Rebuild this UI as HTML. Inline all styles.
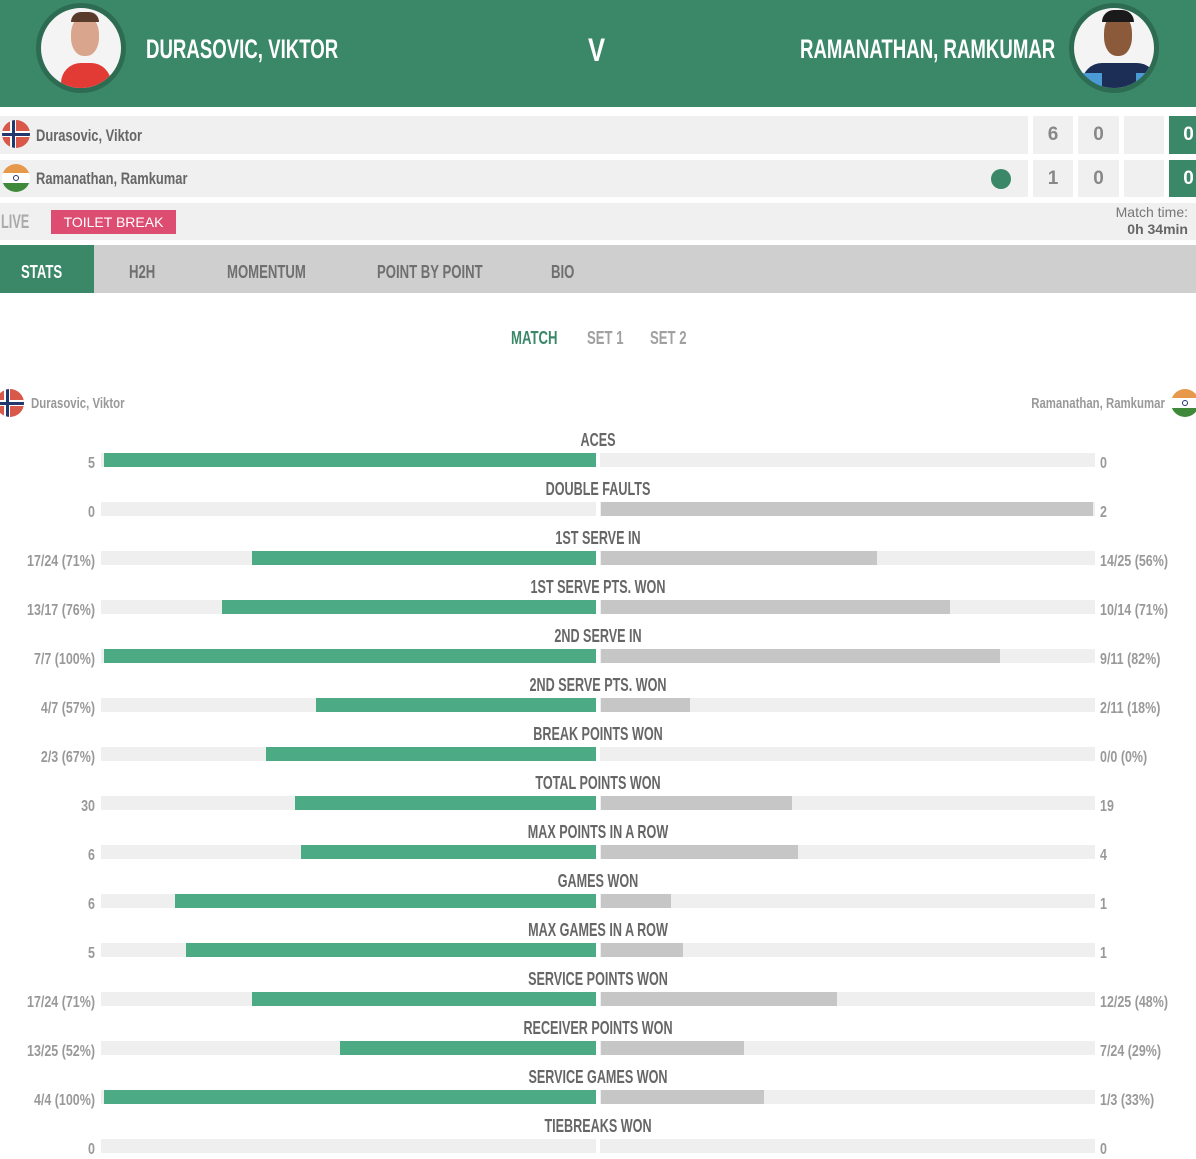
<!DOCTYPE html>
<html><head><meta charset="utf-8"><style>
*{margin:0;padding:0;box-sizing:border-box}
body{width:1196px;height:1158px;background:#fff;position:relative;overflow:hidden;font-family:"Liberation Sans",sans-serif;font-weight:bold}
.a{position:absolute;white-space:nowrap}
.hdr{left:0;top:0;width:1196px;height:107px;background:#3a8868}
.av{width:90px;height:90px;border-radius:50%;border:5px solid #2d6c52;overflow:hidden;background:#f4f4f4}
.hn{color:#fff;font-size:27px;top:34px;transform:scaleX(0.69);transform-origin:left}
.row{background:#f0f0f0}
.pn{font-size:17px;color:#666;transform:scaleX(0.76);transform-origin:left}
.flag{width:28px;height:28px;border-radius:50%;overflow:hidden}
.sc{background:#f0f0f0;color:#888;font-size:19px;text-align:center;line-height:38px}
.tab{font-size:18px;color:#6f6f6f;top:262px;transform:scaleX(0.73);transform-origin:left}
.t{font-size:18px;color:#666;width:400px;left:398px;text-align:center;transform:scaleX(0.7);transform-origin:center}
.tr{height:14px;background:#efefef}
.g{height:14px;background:#4cab85}
.gr{height:14px;background:#c6c6c6}
.vl{font-size:16px;color:#999;width:95px;left:0;text-align:right;transform:scaleX(0.78);transform-origin:right;margin-top:2px}
.vr{font-size:16px;color:#999;left:1100px;transform:scaleX(0.78);transform-origin:left;margin-top:2px}
</style></head><body>
<div class="a hdr"></div>
<div class="a av" style="left:36px;top:3px">
<div class="a" style="left:20px;top:55px;width:50px;height:40px;background:#e23a35;border-radius:20px 20px 0 0"></div>
<div class="a" style="left:30px;top:8px;width:28px;height:40px;background:#d9a58c;border-radius:45%"></div>
<div class="a" style="left:30px;top:4px;width:28px;height:10px;background:#5a3a2a;border-radius:10px 10px 0 0"></div>
</div>
<div class="a av" style="left:1069px;top:3px">
<div class="a" style="left:8px;top:55px;width:75px;height:40px;background:#1c2e55;border-radius:20px 20px 0 0"></div>
<div class="a" style="left:8px;top:65px;width:20px;height:30px;background:#4a9ad6"></div>
<div class="a" style="left:62px;top:65px;width:20px;height:30px;background:#4a9ad6"></div>
<div class="a" style="left:30px;top:6px;width:28px;height:42px;background:#8a5a3a;border-radius:45%"></div>
<div class="a" style="left:28px;top:2px;width:32px;height:12px;background:#1a1a1a;border-radius:12px 12px 0 0"></div>
</div>
<div class="a hn" style="left:146px">DURASOVIC, VIKTOR</div>
<div class="a hn" style="left:588px;font-size:32px;top:32px;transform:scaleX(0.8)">V</div>
<div class="a hn" style="left:800px">RAMANATHAN, RAMKUMAR</div>

<div class="a row" style="left:0;top:116px;width:1028px;height:38px"></div>
<div class="a row" style="left:0;top:160px;width:1028px;height:37px"></div>
<div class="a flag" style="left:2px;top:120px;background:#d8584a"><div class="a" style="left:0;top:11px;width:28px;height:6px;background:#fff"></div><div class="a" style="left:8px;top:0;width:6px;height:28px;background:#fff"></div><div class="a" style="left:0;top:12.5px;width:28px;height:3px;background:#23366e"></div><div class="a" style="left:9.5px;top:0;width:3px;height:28px;background:#23366e"></div></div>
<div class="a flag" style="left:2px;top:164px;background:#fff"><div class="a" style="left:0;top:0;width:28px;height:9px;background:#e6994a"></div><div class="a" style="left:0;top:19px;width:28px;height:9px;background:#3e8a3a"></div><div class="a" style="left:11px;top:11px;width:6px;height:6px;border-radius:50%;border:1.5px solid #22337a"></div></div>
<div class="a pn" style="left:36px;top:126px">Durasovic, Viktor</div>
<div class="a pn" style="left:36px;top:169px">Ramanathan, Ramkumar</div>
<div class="a" style="left:991px;top:169px;width:20px;height:20px;border-radius:50%;background:#3a8868"></div>
<div class="a sc" style="left:1033px;top:116px;width:40px;height:38px">6</div>
<div class="a sc" style="left:1078px;top:116px;width:41px;height:38px">0</div>
<div class="a sc" style="left:1124px;top:116px;width:40px;height:38px"></div>
<div class="a sc" style="left:1169px;top:116px;width:27px;height:38px;background:#3a8868;color:#fff;text-indent:12px">0</div>
<div class="a sc" style="left:1033px;top:160px;width:40px;height:37px">1</div>
<div class="a sc" style="left:1078px;top:160px;width:41px;height:37px">0</div>
<div class="a sc" style="left:1124px;top:160px;width:40px;height:37px"></div>
<div class="a sc" style="left:1169px;top:160px;width:27px;height:37px;background:#3a8868;color:#fff;text-indent:12px">0</div>

<div class="a row" style="left:0;top:203px;width:1196px;height:37px"></div>
<div class="a" style="left:1px;top:212px;font-size:19px;color:#aaa;transform:scaleX(0.67);transform-origin:left">LIVE</div>
<div class="a" style="left:51px;top:210px;width:125px;height:24px;background:#dd4d72;color:#fff;font-weight:normal;font-size:14px;text-align:center;line-height:24px">TOILET BREAK</div>
<div class="a" style="right:8px;top:204px;font-weight:normal;font-size:14px;color:#777;text-align:right;line-height:17px">Match time:<br><b style="color:#666">0h 34min</b></div>

<div class="a" style="left:0;top:245px;width:1196px;height:48px;background:#cfcfcf"></div>
<div class="a" style="left:0;top:245px;width:94px;height:48px;background:#3a8868"></div>
<div class="a tab" style="left:21px;color:#fff">STATS</div>
<div class="a tab" style="left:129px">H2H</div>
<div class="a tab" style="left:227px">MOMENTUM</div>
<div class="a tab" style="left:377px">POINT BY POINT</div>
<div class="a tab" style="left:551px">BIO</div>

<div class="a" style="left:511px;top:328px;font-size:18px;color:#3a8868;transform:scaleX(0.73);transform-origin:left">MATCH</div>
<div class="a" style="left:587px;top:328px;font-size:18px;color:#a0a0a0;transform:scaleX(0.73);transform-origin:left">SET 1</div>
<div class="a" style="left:650px;top:328px;font-size:18px;color:#a0a0a0;transform:scaleX(0.73);transform-origin:left">SET 2</div>

<div class="a flag" style="left:-4px;top:389px;background:#d8584a"><div class="a" style="left:0;top:11px;width:28px;height:6px;background:#fff"></div><div class="a" style="left:8px;top:0;width:6px;height:28px;background:#fff"></div><div class="a" style="left:0;top:12.5px;width:28px;height:3px;background:#23366e"></div><div class="a" style="left:9.5px;top:0;width:3px;height:28px;background:#23366e"></div></div>
<div class="a" style="left:31px;top:395px;font-size:15px;color:#999;transform:scaleX(0.76);transform-origin:left">Durasovic, Viktor</div>
<div class="a" style="right:31px;top:395px;font-size:15px;color:#999;transform:scaleX(0.76);transform-origin:right">Ramanathan, Ramkumar</div>
<div class="a flag" style="left:1171px;top:389px;background:#fff"><div class="a" style="left:0;top:0;width:28px;height:9px;background:#e6994a"></div><div class="a" style="left:0;top:19px;width:28px;height:9px;background:#3e8a3a"></div><div class="a" style="left:11px;top:11px;width:6px;height:6px;border-radius:50%;border:1.5px solid #22337a"></div></div>

<div class="a t" style="top:430px">ACES</div>
<div class="a tr" style="left:101px;top:453px;width:495px"></div><div class="a tr" style="left:600px;top:453px;width:495px"></div>
<div class="a g" style="left:104px;top:453px;width:492px"></div>
<div class="a vl" style="top:453px">5</div><div class="a vr" style="top:453px">0</div>

<div class="a t" style="top:479px">DOUBLE FAULTS</div>
<div class="a tr" style="left:101px;top:502px;width:495px"></div><div class="a tr" style="left:600px;top:502px;width:495px"></div>
<div class="a gr" style="left:601px;top:502px;width:492px"></div>
<div class="a vl" style="top:502px">0</div><div class="a vr" style="top:502px">2</div>

<div class="a t" style="top:528px">1ST SERVE IN</div>
<div class="a tr" style="left:101px;top:551px;width:495px"></div><div class="a tr" style="left:600px;top:551px;width:495px"></div>
<div class="a g" style="left:252px;top:551px;width:344px"></div><div class="a gr" style="left:601px;top:551px;width:276px"></div>
<div class="a vl" style="top:551px">17/24 (71%)</div><div class="a vr" style="top:551px">14/25 (56%)</div>

<div class="a t" style="top:577px">1ST SERVE PTS. WON</div>
<div class="a tr" style="left:101px;top:600px;width:495px"></div><div class="a tr" style="left:600px;top:600px;width:495px"></div>
<div class="a g" style="left:222px;top:600px;width:374px"></div><div class="a gr" style="left:601px;top:600px;width:349px"></div>
<div class="a vl" style="top:600px">13/17 (76%)</div><div class="a vr" style="top:600px">10/14 (71%)</div>

<div class="a t" style="top:626px">2ND SERVE IN</div>
<div class="a tr" style="left:101px;top:649px;width:495px"></div><div class="a tr" style="left:600px;top:649px;width:495px"></div>
<div class="a g" style="left:104px;top:649px;width:492px"></div><div class="a gr" style="left:601px;top:649px;width:399px"></div>
<div class="a vl" style="top:649px">7/7 (100%)</div><div class="a vr" style="top:649px">9/11 (82%)</div>

<div class="a t" style="top:675px">2ND SERVE PTS. WON</div>
<div class="a tr" style="left:101px;top:698px;width:495px"></div><div class="a tr" style="left:600px;top:698px;width:495px"></div>
<div class="a g" style="left:316px;top:698px;width:280px"></div><div class="a gr" style="left:601px;top:698px;width:89px"></div>
<div class="a vl" style="top:698px">4/7 (57%)</div><div class="a vr" style="top:698px">2/11 (18%)</div>

<div class="a t" style="top:724px">BREAK POINTS WON</div>
<div class="a tr" style="left:101px;top:747px;width:495px"></div><div class="a tr" style="left:600px;top:747px;width:495px"></div>
<div class="a g" style="left:266px;top:747px;width:330px"></div>
<div class="a vl" style="top:747px">2/3 (67%)</div><div class="a vr" style="top:747px">0/0 (0%)</div>

<div class="a t" style="top:773px">TOTAL POINTS WON</div>
<div class="a tr" style="left:101px;top:796px;width:495px"></div><div class="a tr" style="left:600px;top:796px;width:495px"></div>
<div class="a g" style="left:295px;top:796px;width:301px"></div><div class="a gr" style="left:601px;top:796px;width:191px"></div>
<div class="a vl" style="top:796px">30</div><div class="a vr" style="top:796px">19</div>

<div class="a t" style="top:822px">MAX POINTS IN A ROW</div>
<div class="a tr" style="left:101px;top:845px;width:495px"></div><div class="a tr" style="left:600px;top:845px;width:495px"></div>
<div class="a g" style="left:301px;top:845px;width:295px"></div><div class="a gr" style="left:601px;top:845px;width:197px"></div>
<div class="a vl" style="top:845px">6</div><div class="a vr" style="top:845px">4</div>

<div class="a t" style="top:871px">GAMES WON</div>
<div class="a tr" style="left:101px;top:894px;width:495px"></div><div class="a tr" style="left:600px;top:894px;width:495px"></div>
<div class="a g" style="left:175px;top:894px;width:421px"></div><div class="a gr" style="left:601px;top:894px;width:70px"></div>
<div class="a vl" style="top:894px">6</div><div class="a vr" style="top:894px">1</div>

<div class="a t" style="top:920px">MAX GAMES IN A ROW</div>
<div class="a tr" style="left:101px;top:943px;width:495px"></div><div class="a tr" style="left:600px;top:943px;width:495px"></div>
<div class="a g" style="left:186px;top:943px;width:410px"></div><div class="a gr" style="left:601px;top:943px;width:82px"></div>
<div class="a vl" style="top:943px">5</div><div class="a vr" style="top:943px">1</div>

<div class="a t" style="top:969px">SERVICE POINTS WON</div>
<div class="a tr" style="left:101px;top:992px;width:495px"></div><div class="a tr" style="left:600px;top:992px;width:495px"></div>
<div class="a g" style="left:252px;top:992px;width:344px"></div><div class="a gr" style="left:601px;top:992px;width:236px"></div>
<div class="a vl" style="top:992px">17/24 (71%)</div><div class="a vr" style="top:992px">12/25 (48%)</div>

<div class="a t" style="top:1018px">RECEIVER POINTS WON</div>
<div class="a tr" style="left:101px;top:1041px;width:495px"></div><div class="a tr" style="left:600px;top:1041px;width:495px"></div>
<div class="a g" style="left:340px;top:1041px;width:256px"></div><div class="a gr" style="left:601px;top:1041px;width:143px"></div>
<div class="a vl" style="top:1041px">13/25 (52%)</div><div class="a vr" style="top:1041px">7/24 (29%)</div>

<div class="a t" style="top:1067px">SERVICE GAMES WON</div>
<div class="a tr" style="left:101px;top:1090px;width:495px"></div><div class="a tr" style="left:600px;top:1090px;width:495px"></div>
<div class="a g" style="left:104px;top:1090px;width:492px"></div><div class="a gr" style="left:601px;top:1090px;width:163px"></div>
<div class="a vl" style="top:1090px">4/4 (100%)</div><div class="a vr" style="top:1090px">1/3 (33%)</div>

<div class="a t" style="top:1116px">TIEBREAKS WON</div>
<div class="a tr" style="left:101px;top:1139px;width:495px"></div><div class="a tr" style="left:600px;top:1139px;width:495px"></div>
<div class="a vl" style="top:1139px">0</div><div class="a vr" style="top:1139px">0</div>
</body></html>
